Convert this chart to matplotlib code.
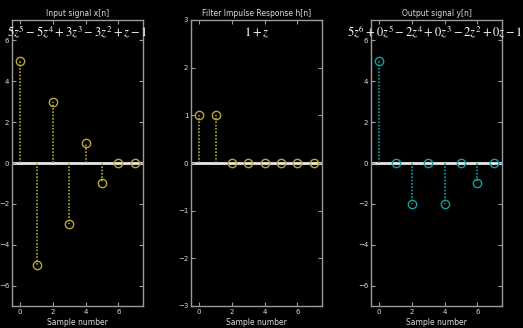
import numpy as np
import matplotlib.pyplot as plt

plt.rcParams['mathtext.fontset'] = 'stix'

# data
n = np.arange(8)
x_sig = [5, -5, 3, -3, 1, -1, 0, 0]
h_sig = [1, 1, 0, 0, 0, 0, 0, 0]
y_sig = [5, 0, -2, 0, -2, 0, -1, 0]

titles = ['Input signal x[n]', 'Filter Impulse Response h[n]', 'Output signal y[n]']
polys = [r'$5z^5-5z^4+3z^3-3z^2+z-1$',
         r'$1+z$',
         r'$5z^6+0z^5-2z^4+0z^3-2z^2+0z-1$']
signals = [x_sig, h_sig, y_sig]
colors = ['#b5a832', '#b5a832', '#10a0a0']
ylims = [(-7, 7), (-3, 3), (-7, 7)]
yticks = [np.arange(-6, 7, 2), np.arange(-3, 4, 1), np.arange(-6, 7, 2)]

fig = plt.figure(figsize=(5.23, 3.28), dpi=100, facecolor='black')
lefts = [12, 191, 371]
W, H = 523, 328
edge = '#9a9a9a'

for i in range(3):
    ax = fig.add_axes([lefts[i] / W, (H - 306) / H, 131 / W, 286 / H])
    ax.set_facecolor('black')
    c = colors[i]
    ax.axhline(0, color='#e8e8e8', lw=2, zorder=1)
    for xi, yi in zip(n, signals[i]):
        if yi != 0:
            ax.plot([xi, xi], [0, yi], ls=(0, (1, 1)), color=c, lw=1.2, zorder=2)
    ax.plot(n, signals[i], 'o', ms=6, mfc='none', mec=c, mew=1, zorder=3)
    ax.set_xlim(-0.5, 7.5)
    ax.set_ylim(*ylims[i])
    ax.set_xticks([0, 2, 4, 6])
    ax.set_yticks(yticks[i])
    ax.tick_params(direction='in', colors=edge, labelcolor='#dddddd', labelsize=5,
                   length=3, width=0.8, top=True, right=True, pad=2)
    for s in ax.spines.values():
        s.set_color(edge)
        s.set_linewidth(1)
    ax.set_title(titles[i], color='#dddddd', fontsize=5.5, pad=3)
    ax.set_xlabel('Sample number', color='#dddddd', fontsize=5.5, labelpad=2)
    xpos = 0.5 if i < 2 else 0.49
    ax.text(xpos, 0.955, polys[i], transform=ax.transAxes, ha='center', va='center',
            color='white', fontsize=9, zorder=5)

fig.savefig('out.png', dpi=100, facecolor='black')
